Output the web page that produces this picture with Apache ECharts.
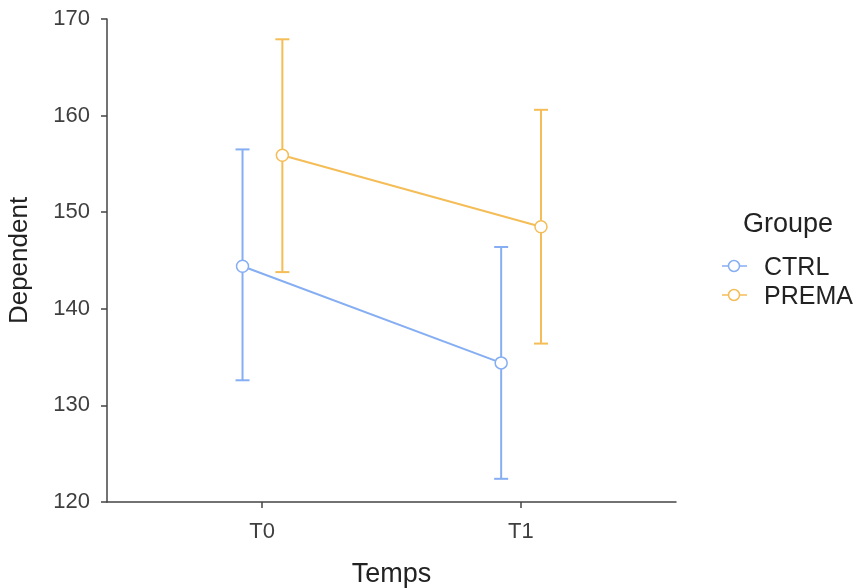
<!DOCTYPE html>
<html><head><meta charset="utf-8">
<script src="https://cdn.jsdelivr.net/npm/echarts@6/dist/echarts.min.js"></script>
<style>html,body{margin:0;padding:0;background:#fff}#c{width:862px;height:588px}</style>
</head><body><div id="c"></div>
<script>
var categories = ['T0', 'T1'];
var groups = ['CTRL', 'PREMA'];
var ctrlMean = [144.4, 134.4];
var ctrlLow = [132.6, 122.4];
var ctrlHigh = [156.5, 146.4];
var premaMean = [155.9, 148.5];
var premaLow = [143.8, 136.4];
var premaHigh = [167.9, 160.6];
var yTicks = [120, 130, 140, 150, 160, 170];

var colors = ['#86AEF2', '#F4BD57'];
var dodge = [-0.076, 0.078];
var means = [ctrlMean, premaMean], lows = [ctrlLow, premaLow], highs = [ctrlHigh, premaHigh];
var font = 'Liberation Sans, Arial, sans-serif';

var series = [];
groups.forEach(function (g, gi) {
  var errData = categories.map(function (c, i) { return [i + dodge[gi], lows[gi][i], highs[gi][i]]; });
  series.push({
    type: 'custom', name: g + ' error', silent: true, z: 1,
    data: errData,
    renderItem: function (params, api) {
      var x = api.value(0);
      var lo = api.coord([x, api.value(1)]);
      var hi = api.coord([x, api.value(2)]);
      var hw = 7;
      var st = { stroke: colors[gi], lineWidth: 2, fill: null };
      return { type: 'group', children: [
        { type: 'line', shape: { x1: lo[0], y1: lo[1], x2: hi[0], y2: hi[1] }, style: st },
        { type: 'line', shape: { x1: lo[0] - hw, y1: lo[1], x2: lo[0] + hw, y2: lo[1] }, style: st },
        { type: 'line', shape: { x1: hi[0] - hw, y1: hi[1], x2: hi[0] + hw, y2: hi[1] }, style: st }
      ]};
    }
  });
  series.push({
    type: 'line', name: g, z: 3,
    data: categories.map(function (c, i) { return [i + dodge[gi], means[gi][i]]; }),
    symbol: 'circle', symbolSize: 12,
    lineStyle: { color: colors[gi], width: 2 },
    itemStyle: { color: '#fff', borderColor: colors[gi], borderWidth: 1.5 },
    emphasis: { disabled: true }
  });
});

var legendGraphics = [
  { type: 'text', left: 743, top: 211, style: { text: 'Groupe', font: '27px ' + font, fill: '#222' } }
];
groups.forEach(function (g, gi) {
  var cy = 266 + gi * 29;
  legendGraphics.push({ type: 'line', shape: { x1: 722, y1: cy, x2: 747, y2: cy }, style: { stroke: colors[gi], lineWidth: 1.5 } });
  legendGraphics.push({ type: 'circle', shape: { cx: 734, cy: cy, r: 5.5 }, style: { fill: '#fff', stroke: colors[gi], lineWidth: 1.5 } });
  legendGraphics.push({ type: 'text', x: 764, y: cy + 2, style: { text: g, font: '25px ' + font, fill: '#222', verticalAlign: 'middle' } });
});

var chart = echarts.init(document.getElementById('c'), null, { renderer: 'canvas' });
chart.setOption({
  animation: false,
  backgroundColor: '#fff',
  grid: { left: 107, right: 186, top: 19, bottom: 86, containLabel: false, outerBoundsMode: 'none' },
  graphic: legendGraphics,
  xAxis: {
    type: 'value', min: -0.6, max: 1.6,
    name: 'Temps', nameLocation: 'middle', nameGap: 59,
    nameTextStyle: { fontFamily: font, fontSize: 27, color: '#222' },
    axisLine: { show: true, onZero: false, lineStyle: { color: '#444', width: 1.5 } },
    axisTick: { show: true, customValues: [0, 1], length: 6, lineStyle: { color: '#444', width: 1.5 } },
    axisLabel: { customValues: [0, 1], margin: 19, fontFamily: font, fontSize: 22, color: '#3F3F3F',
      formatter: function (v) { return categories[Math.round(v)]; } },
    splitLine: { show: false }
  },
  yAxis: {
    type: 'value', min: yTicks[0], max: yTicks[yTicks.length - 1], interval: 10,
    name: 'Dependent', nameLocation: 'middle', nameGap: 74, nameRotate: 90,
    nameTextStyle: { fontFamily: font, fontSize: 26, color: '#222' },
    axisLine: { show: true, onZero: false, lineStyle: { color: '#444', width: 1.5 } },
    axisTick: { show: true, length: 6, lineStyle: { color: '#444', width: 1.5 } },
    axisLabel: { margin: 17, fontFamily: font, fontSize: 22, color: '#3F3F3F' },
    splitLine: { show: false }
  },
  series: series
});
</script></body></html>
